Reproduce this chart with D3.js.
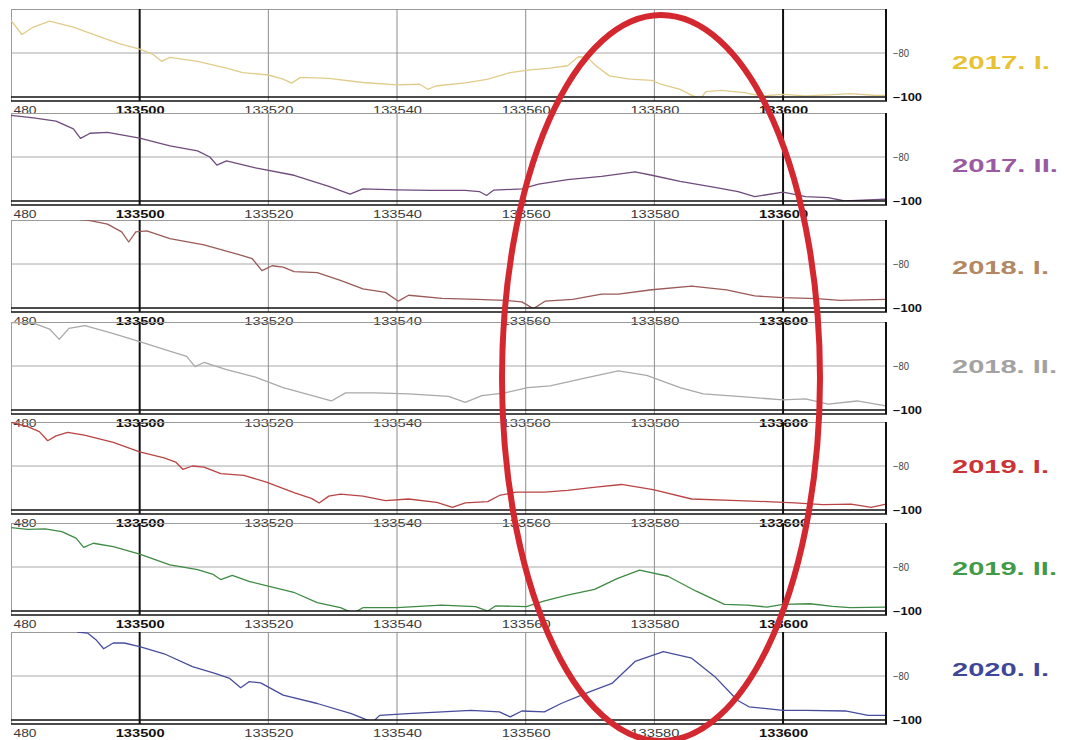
<!DOCTYPE html>
<html><head><meta charset="utf-8">
<script src="https://cdn.jsdelivr.net/npm/d3@7"></script>
<style>body{margin:0;background:#fff;}svg{display:block;}</style>
</head><body>
<svg id="chart" width="1067" height="740"></svg>
<script>
// ---------- DATA ----------
const seriesNames = ["2017. I.", "2017. II.", "2018. I.", "2018. II.", "2019. I.", "2019. II.", "2020. I."];
const xTicks = [133480, 133500, 133520, 133540, 133560, 133580, 133600];
const boldTicks = [133500, 133600];
const yTicks = [-80, -100];
const xDomain = [133480, 133616];
const yDomain = [-100, -60];

const freq2017I = [133480,133481.7,133483.5,133486,133489.7,133493.2,133496.7,133500,133502,133503.4,133504.7,133509,133513.5,133516,133520,133522.3,133523.6,133525,133529.4,133534.7,133540,133543.5,133544.8,133546,133550.6,133554,133557.6,133560.3,133563.8,133566.5,133568.2,133569.6,133570.9,133573,133576.2,133579.6,133581,133584,133586,133587.2,133588,133590.4,133594,133596.5,133600,133603.5,133607,133610.5,133614,133616];
const val2017I = [-65.2,-71.6,-68.2,-65.5,-68.2,-72,-75.6,-78.2,-80.5,-83.8,-82,-83.8,-86.9,-88.9,-90,-91.9,-93.7,-91.1,-91.5,-93.4,-94.5,-94.2,-96.5,-95,-93.6,-92,-88.9,-87.8,-86.9,-85.8,-81.7,-82,-85.8,-90.4,-91.9,-92.4,-94.2,-96.5,-99.5,-100.5,-97.6,-97,-98,-99.5,-98.8,-99.5,-99,-98.5,-99.2,-99.3];

const freq2017II = [133480,133483.5,133487,133489.7,133490.8,133492.3,133495,133500,133504.7,133509,133510.9,133512,133513.5,133518,133524,133529.4,133532.7,133534.7,133540,133545.3,133550.6,133552.8,133553.9,133555,133559.4,133562,133566.5,133571.8,133577,133579.6,133584,133589.4,133593,133595.6,133600,133603.5,133607,133609.6,133616];
const val2017II = [-61.1,-62.2,-63.7,-67.2,-71.5,-69.2,-68.8,-71.4,-74.9,-77.2,-80,-83.7,-81.8,-84.9,-88.3,-93.4,-96.9,-94.5,-94.9,-95.2,-95.2,-95.7,-97.5,-95.1,-94.5,-92.3,-90.3,-88.8,-86.8,-88.3,-91.1,-93.8,-95.7,-98,-96,-98,-98.5,-100,-99.2];

const freq2018I = [133490,133492.3,133495,133497.2,133498.3,133499.4,133501.1,133504.7,133510,133515.3,133517.5,133519,133520.6,133522.3,133524,133527.6,133531.2,133534.7,133538.2,133540.2,133541.8,133547,133552.4,133556.8,133559.4,133561.2,133563,133567.3,133571.8,133574.4,133579.6,133585.8,133591.2,133595.6,133600,133605.3,133608.8,133616];
const val2018I = [-59.5,-60.3,-61.9,-65.4,-70,-65.4,-64.9,-68.5,-71.3,-75.6,-77.6,-83,-80.8,-81.4,-83.5,-83.9,-87.4,-91.3,-92.9,-96.9,-94.2,-95.6,-96.1,-96.5,-97.2,-100.3,-96.9,-96.1,-93.7,-93.7,-91.7,-90.1,-91.8,-94.5,-95.3,-95.7,-96.5,-96.1];

const freq2018II = [133480,133483.5,133486,133487.5,133489,133491.5,133495.8,133500,133503.8,133507.3,133508.6,133510,133513.5,133518,133522.3,133526.7,133529.8,133532,133536.5,133541.8,133548,133550.6,133553.2,133556.8,133560.3,133563.8,133569,133574.4,133578.8,133584,133587.6,133593,133596.5,133600,133603.5,133607,133611.5,133616];
const val2018II = [-60.3,-60.5,-63.2,-67.9,-62.9,-61.6,-65.2,-68.9,-72.4,-75.6,-80.3,-78.4,-81.6,-85.1,-89.8,-93.3,-95.9,-92.2,-92.2,-92.7,-93.8,-96.5,-93.5,-92.2,-89.8,-89,-85.6,-82.2,-84.3,-89.8,-92.7,-93.8,-94.6,-95.4,-94.9,-97.3,-95.9,-98.1];

const freq2019I = [133480,133482.6,133484.4,133485.7,133487,133488.8,133491.4,133495.9,133500,133503.8,133505.6,133506.7,133508.2,133510,133512.6,133516.2,133519.7,133524.1,133526.7,133527.9,133529.4,133531.2,133534.7,133538.2,133541.8,133546.2,133548.6,133550.6,133554.1,133555.9,133558.5,133562.9,133566.5,133570.9,133574.9,133579.8,133585.8,133593,133597.4,133601.8,133606.2,133610.6,133613.7,133616];
const val2019I = [-60.1,-62.1,-64.4,-68.5,-66.3,-64.7,-66,-69.3,-73.6,-76.3,-78.2,-81.5,-80,-80.5,-83.5,-84.3,-87.3,-92.2,-94.7,-96.8,-93.7,-92.8,-93.7,-95.7,-95,-96.5,-98.8,-96.8,-96.2,-93.4,-91.9,-91.9,-91.1,-89.6,-88.4,-90.7,-95,-95.7,-96.2,-96.8,-97.6,-97.3,-98.8,-97.3];

const freq2019II = [133480,133482.6,133485.3,133487.9,133490.1,133491.3,133492.8,133495.9,133500,133504.7,133509,133511.3,133512.6,133514.4,133517,133520.6,133524.1,133527.6,133531.2,133533.2,133534.7,133540,133546.9,133552.2,133554.1,133555.3,133560.1,133562.8,133566.3,133570.7,133574.2,133577.7,133582.1,133586.5,133590.9,133594.4,133597.5,133600,133604.2,133607.7,133610.4,133616];
const val2019II = [-62.1,-62.9,-62.7,-63.9,-66.9,-71.1,-69.2,-70.7,-74.1,-79,-81.2,-83.2,-85.7,-83.8,-86.5,-89.2,-91.7,-96.2,-98.5,-101,-98.5,-98.5,-97.3,-98,-100,-97.7,-98,-95.5,-92.9,-90.2,-85.3,-81.4,-84.2,-91,-97,-97.3,-98.2,-97,-96.7,-97.9,-98.5,-98.2];

const freq2020I = [133490.3,133491.9,133493.2,133494.4,133495.9,133497.6,133500,133503.8,133508.2,133511.7,133514,133515.7,133517,133518.8,133522.3,133527.6,133532.9,133536.2,133537.3,133541.7,133547,133551.5,133555.9,133557.6,133559.4,133562.9,133565.5,133569.9,133573.4,133577,133581.4,133585.8,133589.4,133592.9,133594.7,133600,133603.5,133609.7,133613.2,133616];
const val2020I = [-60,-60.5,-63.5,-67.6,-65,-65,-66.6,-69.9,-75.7,-78.8,-81.1,-85.3,-82.6,-83.1,-88.7,-92.5,-97.1,-101,-97.9,-97.1,-96.3,-95.6,-96.3,-98.6,-95.9,-96.3,-92.5,-87.2,-83.4,-73.4,-68.9,-71.9,-80.3,-91,-94,-95.6,-95.6,-95.9,-97.9,-97.9];

const seriesFreqs = [freq2017I, freq2017II, freq2018I, freq2018II, freq2019I, freq2019II, freq2020I];
const seriesVals = [val2017I, val2017II, val2018I, val2018II, val2019I, val2019II, val2020I];

// ---------- STYLE / LAYOUT ----------
const lineColors = ["#e0cc8a", "#6f4c7c", "#9a5a58", "#a9a9a9", "#b94444", "#3f8a44", "#474c9c"];
const labelColors = ["#e8c233", "#9a5aa2", "#b38764", "#a2a2a2", "#cc3336", "#3f9a4a", "#40479a"];
const labelWidths = [98, 106, 97, 105, 97, 105, 97];
const panelMid = [53, 157, 264, 366, 466, 567, 676];
const labelY = [63, 166, 268, 367, 467, 569, 670];
const half = 44;
const L = 11, R = 886;

const svg = d3.select("#chart");
svg.append("rect").attr("width", 1067).attr("height", 740).attr("fill", "#fff");

const x = d3.scaleLinear().domain(xDomain).range([L, R]);
const y = d3.scaleLinear().domain(yDomain).range([2 * half, 0]);

svg.append("clipPath").attr("id", "plotclip")
  .append("rect").attr("x", L).attr("y", 0).attr("width", R - L).attr("height", 2 * half);

const tickLabel = d => d === xTicks[0] ? String(d).slice(-3) : String(d);

seriesNames.forEach((name, i) => {
  const top = panelMid[i] - half;
  const g = svg.append("g").attr("transform", `translate(0,${top})`);
  const h = 2 * half;

  // frame & grid
  g.append("line").attr("x1", L).attr("x2", R).attr("y1", 0.5).attr("y2", 0.5)
    .attr("stroke", "#9a9a9a").attr("stroke-width", 1);
  g.append("line").attr("x1", L + 0.5).attr("x2", L + 0.5).attr("y1", 0).attr("y2", h + 4)
    .attr("stroke", "#9a9a9a").attr("stroke-width", 1);
  g.append("line").attr("x1", L).attr("x2", R).attr("y1", y(-80)).attr("y2", y(-80))
    .attr("stroke", "#a8a8a8").attr("stroke-width", 1);
  xTicks.filter(t => t !== xTicks[0]).forEach(t => {
    const bold = boldTicks.includes(t);
    g.append("line").attr("x1", x(t)).attr("x2", x(t)).attr("y1", 0).attr("y2", h + 4)
      .attr("stroke", bold ? "#111" : "#8e8e8e").attr("stroke-width", bold ? 2 : 1);
  });

  // series line
  const pts = seriesFreqs[i].map((f, k) => [f, seriesVals[i][k]]);
  g.append("path").datum(pts)
    .attr("clip-path", "url(#plotclip)")
    .attr("fill", "none").attr("stroke", lineColors[i]).attr("stroke-width", 1.3)
    .attr("stroke-linejoin", "round")
    .attr("d", d3.line().x(d => x(d[0])).y(d => y(d[1])));

  // bottom double line and right border
  g.append("line").attr("x1", L).attr("x2", R + 1).attr("y1", h).attr("y2", h)
    .attr("stroke", "#111").attr("stroke-width", 1.6);
  g.append("line").attr("x1", L).attr("x2", R + 1).attr("y1", h + 4).attr("y2", h + 4)
    .attr("stroke", "#111").attr("stroke-width", 1.6);
  g.append("line").attr("x1", R).attr("x2", R).attr("y1", 0).attr("y2", h + 4)
    .attr("stroke", "#111").attr("stroke-width", 2);

  // bottom axis labels
  const ax = g.append("g").attr("transform", `translate(0,${h + 4})`)
    .call(d3.axisBottom(x).tickValues(xTicks).tickSize(0).tickFormat(tickLabel));
  ax.select(".domain").remove();
  ax.selectAll("text")
    .attr("y", 9).attr("dy", "0.35em")
    .attr("x", d => d === xTicks[0] ? 2 : 0)
    .attr("text-anchor", d => d === xTicks[0] ? "start" : "middle")
    .attr("font-family", "Liberation Sans, Arial, sans-serif")
    .attr("font-size", 10)
    .attr("font-weight", d => boldTicks.includes(d) ? "bold" : "normal")
    .attr("fill", d => boldTicks.includes(d) ? "#111" : "#3a3a3a")
    .attr("textLength", d => d === xTicks[0] ? 23 : 49).attr("lengthAdjust", "spacingAndGlyphs");

  // right axis labels
  const ay = g.append("g").attr("transform", `translate(892,0)`)
    .call(d3.axisRight(y).tickValues(yTicks).tickSize(0).tickPadding(1));
  ay.select(".domain").remove();
  ay.selectAll("text")
    .attr("font-family", "Liberation Sans, Arial, sans-serif")
    .attr("font-size", 10)
    .attr("font-weight", d => d === -100 ? "bold" : "normal")
    .attr("fill", d => d === -100 ? "#111" : "#444")
    .attr("textLength", d => d === -100 ? 29 : 16).attr("lengthAdjust", "spacingAndGlyphs");

  // series name
  svg.append("text").attr("x", 952).attr("y", labelY[i])
    .attr("dy", "0.36em")
    .attr("font-family", "Liberation Sans, Arial, sans-serif")
    .attr("font-size", 18).attr("font-weight", "bold")
    .attr("fill", labelColors[i])
    .attr("textLength", labelWidths[i]).attr("lengthAdjust", "spacingAndGlyphs")
    .text(name);
});

// red highlight ellipse
svg.append("ellipse").attr("cx", 661).attr("cy", 378).attr("rx", 159).attr("ry", 363)
  .attr("fill", "none").attr("stroke", "#d3282f").attr("stroke-width", 6);
</script>
</body></html>
